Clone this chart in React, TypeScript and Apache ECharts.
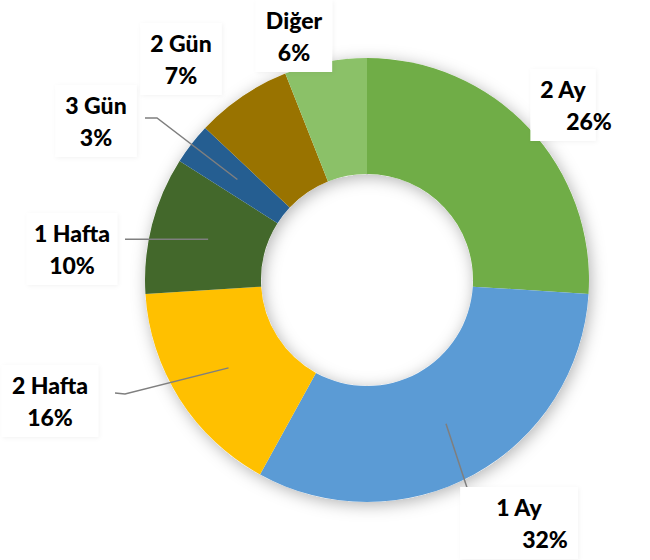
import React, { useEffect, useRef } from "react";
import * as echarts from "echarts";

const categories = ["2 Ay", "1 Ay", "2 Hafta", "1 Hafta", "3 Gün", "2 Gün", "Diğer"];
const values = [26, 32, 16, 10, 3, 7, 6];
const colors = ["#70AD47", "#5B9BD5", "#FFC000", "#43682B", "#255E91", "#997300", "#8BC168"];

const CX = 367;
const CY = 280;
const R_IN = 106;
const R_OUT = 222;

// label anchor (centre of the two-line block) and optional leader elbow/end
const labelPlaces: { x: number; y: number; shift: boolean; line: number[][] | null }[] = [
  { x: 563, y: 105, shift: true, line: null },
  { x: 519, y: 523, shift: true, line: [[476, 515], [486, 515]] },
  { x: 50, y: 401, shift: false, line: [[125, 394], [115, 393]] },
  { x: 72, y: 249, shift: false, line: [[135, -1], [125, -1]] },
  { x: 96, y: 121, shift: false, line: [[157, 118], [145, 118]] },
  { x: 181, y: 59, shift: false, line: null },
  { x: 294, y: 36, shift: false, line: null },
];

export default function App() {
  const ref = useRef<HTMLDivElement>(null);
  useEffect(() => {
    if (!ref.current) return;
    const chart = echarts.init(ref.current, undefined, { renderer: "svg" });
    const total = values.reduce((a, b) => a + b, 0);
    const mids: number[][] = [];
    let cum = 0;
    values.forEach((v) => {
      const mid = ((cum + v / 2) / total) * Math.PI * 2;
      cum += v;
      const rm = (R_IN + R_OUT) / 2;
      mids.push([CX + rm * Math.sin(mid), CY - rm * Math.cos(mid)]);
    });
    const font = "Lato, 'Open Sans', sans-serif";
    const txt = { fontFamily: font, fontWeight: 900, fontSize: 23, color: "#000", lineHeight: 32 };
    chart.setOption({
      animation: false,
      backgroundColor: "#ffffff",
      series: [
        {
          type: "pie",
          silent: true,
          center: [CX, CY],
          radius: [R_IN, R_OUT],
          z: 1,
          label: { show: false },
          labelLine: { show: false },
          itemStyle: {
            color: "#ffffff",
            shadowBlur: 16,
            shadowOffsetX: 2,
            shadowOffsetY: 3,
            shadowColor: "rgba(0,0,0,0.3)",
          },
          data: [{ value: 1 }],
        },
        {
          type: "pie",
          center: [CX, CY],
          radius: [R_IN, R_OUT],
          startAngle: 90,
          clockwise: true,
          z: 2,
          itemStyle: { borderWidth: 0 },
          label: { show: false },
          labelLine: { show: false },
          data: categories.map((name, i) => ({
            name,
            value: values[i],
            itemStyle: { color: colors[i] },
          })),
        },
        {
          type: "pie",
          center: [CX, CY],
          radius: [R_IN, R_OUT],
          startAngle: 90,
          clockwise: true,
          z: 3,
          silent: true,
          itemStyle: { color: "rgba(0,0,0,0)", borderWidth: 0 },
          label: {
            show: true,
            overflow: "none",
            formatter: (p: any) =>
              labelPlaces[p.dataIndex].shift
                ? `{n|${p.name}}\n{s|${p.value}%}`
                : `{n|${p.name}}\n{p|${p.value}%}`,
            backgroundColor: "#ffffff",
            padding: [4, 10],
            shadowBlur: 4,
            shadowOffsetX: 1,
            shadowOffsetY: 1,
            shadowColor: "rgba(0,0,0,0.05)",
            rich: {
              n: txt,
              p: txt,
              s: { ...txt, padding: [0, 0, 0, 52] },
            },
          },
          labelLine: { show: true, lineStyle: { color: "#7f7f7f", width: 1.5 } },
          labelLayout: (params: any) => {
            const i = params.dataIndex;
            const lp = labelPlaces[i];
            const out: any = { x: lp.x, y: lp.y, align: "center", verticalAlign: "middle" };
            if (lp.line) {
              const m = mids[i];
              const pts = lp.line.map((pt) => [pt[0], pt[1] < 0 ? m[1] : pt[1]]);
              out.labelLinePoints = [m, pts[0], pts[1]];
            }
            return out;
          },
          data: categories.map((name, i) => ({
            name,
            value: values[i],
            labelLine: { show: !!labelPlaces[i].line },
          })),
        },
      ],
    });
    return () => chart.dispose();
  }, []);
  return (
    <div
      ref={ref}
      style={{ position: "absolute", left: 0, top: 0, width: 650, height: 560 }}
    />
  );
}
